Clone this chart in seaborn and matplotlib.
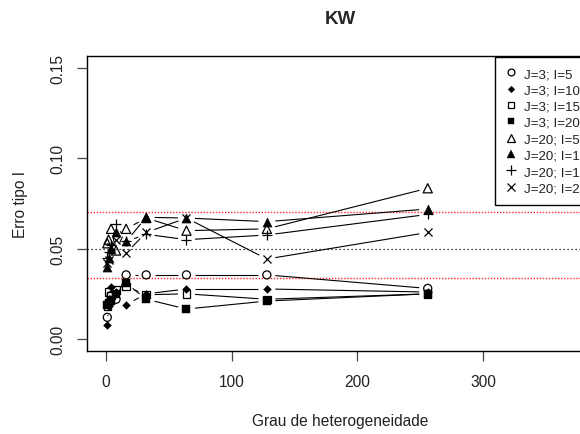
import numpy as np
import pandas as pd
import matplotlib
matplotlib.use("Agg")
import matplotlib.pyplot as plt
import seaborn as sns
from matplotlib.lines import Line2D
from matplotlib.collections import LineCollection
from matplotlib.ticker import FormatStrFormatter, FixedLocator

# ---------------- data ----------------
grau = [1, 2, 4, 8, 16, 32, 64, 128, 256]
labels = ["J=3; I=5", "J=3; I=10", "J=3; I=15", "J=3; I=20",
          "J=20; I=5", "J=20; I=10", "J=20; I=15", "J=20; I=20"]
j3_i5 = [0.012, 0.019, 0.024, 0.022, 0.0355, 0.0355, 0.0355, 0.0355, 0.028]
j3_i10 = [0.008, 0.018, 0.029, 0.026, 0.019, 0.025, 0.0277, 0.0277, 0.026]
j3_i15 = [0.018, 0.026, 0.024, 0.027, 0.029, 0.0245, 0.025, 0.022, 0.025]
j3_i20 = [0.019, 0.020, 0.021, 0.025, 0.031, 0.022, 0.0166, 0.021, 0.025]
j20_i5 = [0.053, 0.055, 0.061, 0.049, 0.061, 0.067, 0.060, 0.061, 0.0835]
j20_i10 = [0.040, 0.045, 0.050, 0.059, 0.054, 0.0674, 0.067, 0.065, 0.072]
j20_i15 = [0.045, 0.048, 0.052, 0.0637, 0.054, 0.058, 0.055, 0.0576, 0.069]
j20_i20 = [0.042, 0.044, 0.051, 0.055, 0.0476, 0.059, 0.067, 0.0443, 0.059]
nominal = 0.05
lim_inf = 0.034
lim_sup = 0.0705
x_ticks = [0, 100, 200, 300]
y_ticks = [0.00, 0.05, 0.10, 0.15]

series = [j3_i5, j3_i10, j3_i15, j3_i20, j20_i5, j20_i10, j20_i15, j20_i20]

# marker styles (R pch 1, 18, 0, 15, 2, 17, 3, 4)
styles = [
    dict(marker="o", filled=False, size=5.8),
    dict(marker="D", filled=True, size=4.0),
    dict(marker="s", filled=False, size=5.4),
    dict(marker="s", filled=True, size=5.4),
    dict(marker="^", filled=False, size=6.6),
    dict(marker="^", filled=True, size=6.6),
    dict(marker="+", filled=None, size=7.3),
    dict(marker="x", filled=None, size=5.8),
]

sns.set_theme(style="white")
plt.rcParams["font.family"] = ["Liberation Sans", "DejaVu Sans"]

W, H = 580, 435
fig = plt.figure(figsize=(W / 100, H / 100), dpi=100)
left, right, top, bottom = 87.3, 592.7, 57.3, 351.7
ax = fig.add_axes([left / W, 1 - bottom / H, (right - left) / W, (bottom - top) / H])
ax.set_xlim(-14.9, 387.3)
ax.set_ylim(-0.0065, 0.1566)

# reference lines
ax.axhline(nominal, color="black", lw=0.9, ls=(0, (1, 2.2)), zorder=1)
ax.axhline(lim_inf, color="#ff2a2a", lw=1.0, ls=(0, (1, 1.2)), zorder=1)
ax.axhline(lim_sup, color="#ff2a2a", lw=1.0, ls=(0, (1, 1.2)), zorder=1)

fig.canvas.draw()

def gapped_lines(xs, ys, gap_px=8.5):
    pts = ax.transData.transform(np.column_stack([xs, ys]))
    inv = ax.transData.inverted()
    segs = []
    for p0, p1 in zip(pts[:-1], pts[1:]):
        d = p1 - p0
        L = np.hypot(d[0], d[1])
        if L > 2 * gap_px:
            u = d / L
            segs.append(inv.transform(np.array([p0 + u * gap_px, p1 - u * gap_px])))
    ax.add_collection(LineCollection(segs, colors="black", linewidths=0.8, zorder=2))

handles = []
for vals, st, lab in zip(series, styles, labels):
    df = pd.DataFrame({"grau": grau, "erro": vals})
    gapped_lines(df["grau"].values, df["erro"].values)
    m, size = st["marker"], st["size"]
    if st["filled"] is None:
        sns.scatterplot(data=df, x="grau", y="erro", marker=m, s=size ** 2,
                        color="black", linewidth=0.9, ax=ax, zorder=3)
        h = Line2D([], [], marker=m, ls="None", color="black", markersize=size * 0.95,
                   markeredgewidth=0.9)
    elif st["filled"]:
        sns.scatterplot(data=df, x="grau", y="erro", marker=m, s=size ** 2,
                        color="black", edgecolor="black", linewidth=0.3, ax=ax, zorder=3)
        h = Line2D([], [], marker=m, ls="None", color="black", markersize=size * 0.85,
                   markeredgewidth=0.3)
    else:
        sns.scatterplot(data=df, x="grau", y="erro", marker=m, s=size ** 2,
                        facecolor="none", edgecolor="black", linewidth=0.9, ax=ax, zorder=3)
        h = Line2D([], [], marker=m, ls="None", markerfacecolor="none",
                   markeredgecolor="black", markersize=size * 0.85, markeredgewidth=0.9)
    handles.append(h)

# axes styling (R base look)
for sp in ax.spines.values():
    sp.set_color("black")
    sp.set_linewidth(1.0)
ax.xaxis.set_major_locator(FixedLocator(x_ticks))
ax.yaxis.set_major_locator(FixedLocator(y_ticks))
ax.yaxis.set_major_formatter(FormatStrFormatter("%.2f"))
ax.tick_params(axis="both", direction="out", length=7, width=0.9, color="#444444",
               labelsize=11.2, labelcolor="#222222", bottom=True, left=True)
ax.tick_params(axis="x", pad=10)
ax.tick_params(axis="y", pad=9, labelrotation=90)
for t in ax.get_yticklabels():
    t.set_va("center")

ax.set_xlabel("Grau de heterogeneidade", fontsize=11.2, color="#222222", labelpad=17)
ax.set_ylabel("Erro tipo I", fontsize=11.2, color="#222222", labelpad=16)
ax.set_title("KW", fontsize=13.5, fontweight="bold", pad=24)

leg = fig.legend(handles, labels, loc="upper left",
                 bbox_to_anchor=(495 / W, 1 - 58 / H), bbox_transform=fig.transFigure,
                 frameon=True, fancybox=False, edgecolor="black", framealpha=1,
                 fontsize=9.6, labelspacing=0.3, handlelength=0.8, handletextpad=0.55,
                 borderpad=0.8, borderaxespad=0)
leg.get_frame().set_linewidth(1.0)
for t in leg.get_texts():
    t.set_color("#222222")

fig.savefig("out.png", dpi=100)
